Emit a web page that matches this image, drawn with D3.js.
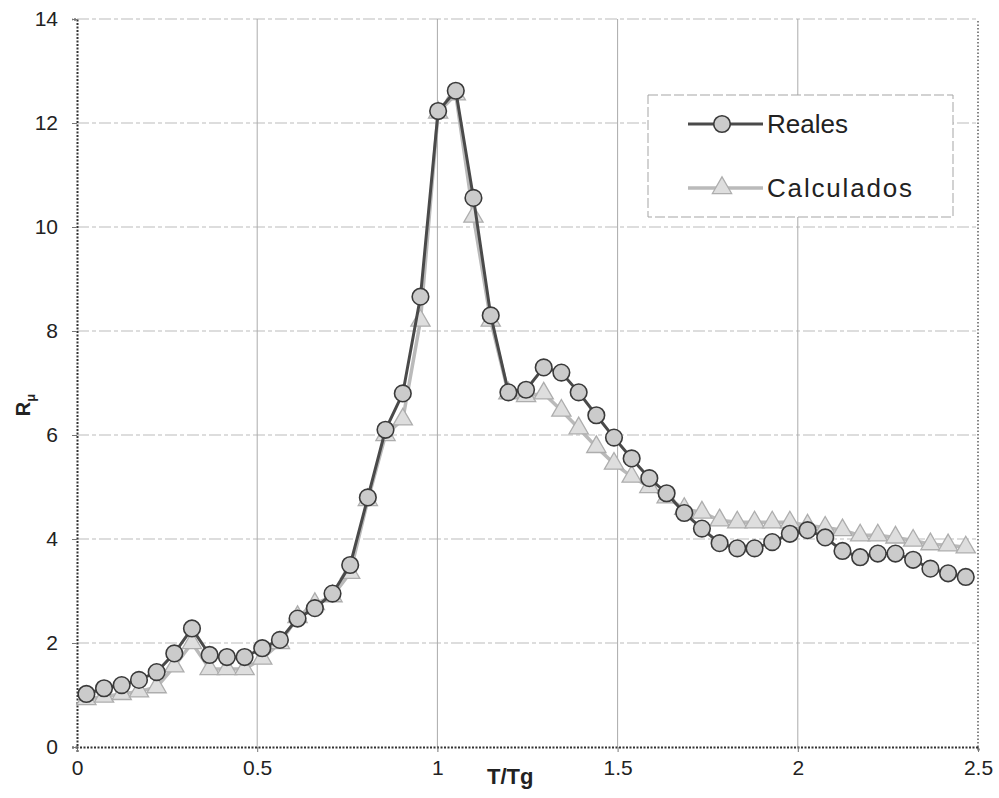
<!DOCTYPE html>
<html>
  <head>
    <meta charset="utf-8">
    <title>R vs T/Tg</title>
    <style>
      body { margin: 0; background: #fff; }
      text { font-family: Arial, "Liberation Sans", sans-serif; fill: #222; }
    </style>
  </head>
  <body>
    <div id="chart"></div>
    <script src="https://cdn.jsdelivr.net/npm/d3@7"></script>
    <script>

      const width = 999;
      const height = 798;

      // T/Tg values of the points
      const tRatio = [0.026, 0.075, 0.124, 0.172, 0.221, 0.270, 0.319, 0.368, 0.416, 0.465,
                      0.514, 0.563, 0.612, 0.660, 0.709, 0.758, 0.807, 0.856, 0.904, 0.953,
                      1.002, 1.051, 1.100, 1.148, 1.197, 1.246, 1.295, 1.344, 1.392, 1.441,
                      1.490, 1.539, 1.588, 1.636, 1.685, 1.734, 1.783, 1.832, 1.880, 1.929,
                      1.978, 2.027, 2.076, 2.124, 2.173, 2.222, 2.271, 2.320, 2.368, 2.417, 2.466];

      const reales = [1.02, 1.13, 1.19, 1.29, 1.44, 1.80, 2.28, 1.77, 1.73, 1.73,
                      1.90, 2.06, 2.47, 2.67, 2.95, 3.50, 4.80, 6.10, 6.80, 8.66,
                      12.23, 12.62, 10.56, 8.30, 6.82, 6.87, 7.30, 7.20, 6.82, 6.38,
                      5.95, 5.55, 5.17, 4.88, 4.50, 4.20, 3.92, 3.82, 3.82, 3.94,
                      4.10, 4.17, 4.03, 3.77, 3.65, 3.72, 3.72, 3.60, 3.43, 3.34, 3.27];

      const calculados = [0.92, 0.97, 1.02, 1.07, 1.15, 1.55, 2.00, 1.50, 1.50, 1.50,
                          1.70, 2.00, 2.50, 2.75, 2.90, 3.35, 4.75, 6.00, 6.30, 8.20,
                          12.20, 12.55, 10.20, 8.20, 6.80, 6.75, 6.80, 6.47, 6.13, 5.77,
                          5.45, 5.20, 5.00, 4.80, 4.58, 4.51, 4.36, 4.32, 4.32, 4.32,
                          4.32, 4.26, 4.22, 4.17, 4.07, 4.07, 4.03, 3.97, 3.90, 3.88, 3.84];

      const xTicks = [0, 0.5, 1, 1.5, 2, 2.5];
      const yTicks = [0, 2, 4, 6, 8, 10, 12, 14];
      const seriesNames = ['Reales', 'Calculados'];

      const margin = {top: 19, right: 21, bottom: 51, left: 77};

      const x = d3.scaleLinear().domain([0, 2.5]).range([margin.left, width - margin.right]);
      const y = d3.scaleLinear().domain([0, 14]).range([height - margin.bottom, margin.top]);

      const svg = d3.select('#chart')
                    .append('svg')
                    .attr('width', width)
                    .attr('height', height)

      // grid
      svg.append('g')
        .selectAll('line')
        .data(yTicks.filter(d => d > 0))
        .enter()
        .append('line')
        .attr('x1', x(0)).attr('x2', x(2.5))
        .attr('y1', d => y(d)).attr('y2', d => y(d))
        .attr('stroke', '#bcbcbc')
        .attr('stroke-width', 1.2)
        .attr('stroke-dasharray', '12,3,4,3')

      svg.append('g')
        .selectAll('line')
        .data(xTicks.filter(d => d > 0 && d < 2.5))
        .enter()
        .append('line')
        .attr('x1', d => x(d)).attr('x2', d => x(d))
        .attr('y1', y(0)).attr('y2', y(14))
        .attr('stroke', '#ababab')
        .attr('stroke-width', 1)

      // right border, dotted
      svg.append('line')
        .attr('x1', x(2.5)).attr('x2', x(2.5))
        .attr('y1', y(0)).attr('y2', y(14))
        .attr('stroke', '#666')
        .attr('stroke-width', 1.6)
        .attr('stroke-dasharray', '1.5,2')

      // axes
      const xAxis = d3.axisBottom(x).tickValues(xTicks).tickSize(5).tickFormat(d3.format('~g'))
      const yAxis = d3.axisLeft(y).tickValues(yTicks).tickSize(5).tickFormat(d3.format('d'))

      const gx = svg.append('g')
        .attr('transform', `translate(0,${y(0)})`)
        .call(xAxis)
      const gy = svg.append('g')
        .attr('transform', `translate(${x(0)},0)`)
        .call(yAxis)

      for (const g of [gx, gy]) {
        g.select('.domain')
          .attr('stroke', '#333')
          .attr('stroke-width', 2)
          .attr('stroke-dasharray', '2,1.5')
        g.selectAll('.tick line').attr('stroke', '#777')
        g.selectAll('.tick text')
          .attr('font-size', 21)
          .attr('font-family', 'Arial, "Liberation Sans", sans-serif')
          .attr('fill', '#222')
      }
      gx.selectAll('.tick text').attr('y', 13)
      gy.selectAll('.tick text').attr('x', -19)

      // axis titles
      svg.append('text')
        .attr('x', 487)
        .attr('y', 784)
        .attr('font-size', 22)
        .attr('font-weight', 'bold')
        .text('T/Tg')

      svg.append('text')
        .attr('transform', 'translate(30,405) rotate(-90)')
        .attr('text-anchor', 'middle')
        .attr('font-size', 20)
        .attr('font-weight', 'bold')
        .text('R')
        .append('tspan')
        .attr('font-size', 13)
        .attr('dy', 5)
        .text('μ')

      const pts = (vals) => tRatio.map((t, i) => [t, vals[i]])
      const line = d3.line().x(d => x(d[0])).y(d => y(d[1]))
      const tri = d3.symbol().type(d3.symbolTriangle).size(160)

      // Calculados (drawn first, behind)
      svg.append('path')
        .datum(pts(calculados))
        .attr('d', line)
        .attr('fill', 'none')
        .attr('stroke', '#bababa')
        .attr('stroke-width', 3.5)

      svg.append('g')
        .selectAll('path')
        .data(pts(calculados))
        .enter()
        .append('path')
        .attr('d', tri)
        .attr('transform', d => `translate(${x(d[0])},${y(d[1])})`)
        .attr('fill', '#dedede')
        .attr('stroke', '#adadad')
        .attr('stroke-width', 1.3)

      // Reales
      svg.append('path')
        .datum(pts(reales))
        .attr('d', line)
        .attr('fill', 'none')
        .attr('stroke', '#4a4a4a')
        .attr('stroke-width', 3)

      svg.append('g')
        .selectAll('circle')
        .data(pts(reales))
        .enter()
        .append('circle')
        .attr('cx', d => x(d[0]))
        .attr('cy', d => y(d[1]))
        .attr('r', 8.3)
        .attr('fill', '#cbcbcb')
        .attr('stroke', '#3a3a3a')
        .attr('stroke-width', 1.6)

      // legend
      const legend = svg.append('g')
      legend.append('rect')
        .attr('x', 648).attr('y', 95)
        .attr('width', 305).attr('height', 122)
        .attr('fill', '#fff')
        .attr('stroke', '#a5a5a5')
        .attr('stroke-width', 1)
        .attr('stroke-dasharray', '10,3')

      const lg = legend.selectAll('g.item')
        .data(seriesNames)
        .enter()
        .append('g')
        .attr('transform', (d, i) => `translate(0,${124 + i * 64})`)

      lg.append('line')
        .attr('x1', 688).attr('x2', 763)
        .attr('stroke', (d, i) => i == 0 ? '#4a4a4a' : '#bababa')
        .attr('stroke-width', (d, i) => i == 0 ? 3 : 3.5)
      lg.filter((d, i) => i == 0).append('circle')
        .attr('cx', 722).attr('r', 8.3)
        .attr('fill', '#cbcbcb').attr('stroke', '#3a3a3a').attr('stroke-width', 1.6)
      lg.filter((d, i) => i == 1).append('path')
        .attr('d', tri)
        .attr('transform', 'translate(722,0)')
        .attr('fill', '#dedede').attr('stroke', '#adadad').attr('stroke-width', 1.3)
      lg.append('text')
        .attr('x', 767)
        .attr('y', 9)
        .attr('font-size', 26)
        .attr('textLength', (d, i) => i == 0 ? 81 : 145)
        .text(d => d)

    </script>
  </body>
</html>
